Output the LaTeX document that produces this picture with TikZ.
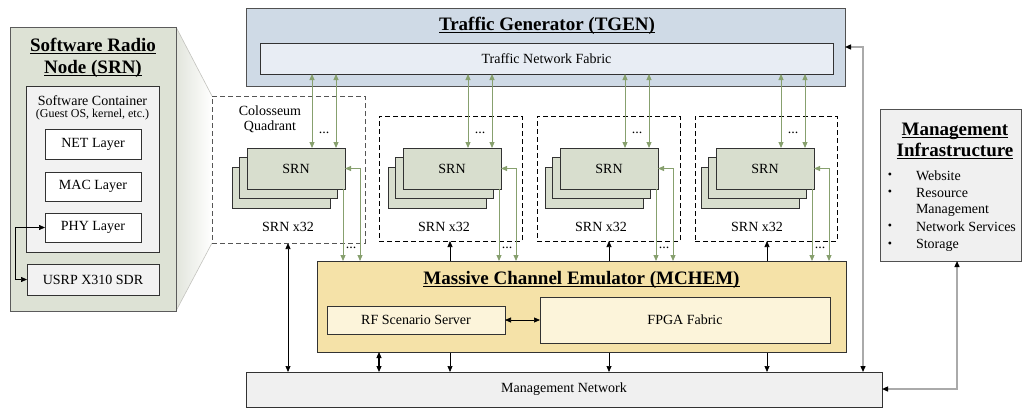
\documentclass[tikz,border=0pt]{standalone}
\usepackage{fontspec}
\setmainfont{Liberation Serif}
\usetikzlibrary{arrows.meta,calc,backgrounds}
\newcommand\bodyf{\fontsize{14}{16.5}\selectfont}
\newcommand\smallf{\fontsize{12}{14}\selectfont}
\newcommand\titlef{\fontsize{19}{22}\selectfont\bfseries}
\newcommand\myul[1]{\setbox0\hbox{#1}\rlap{\rule[-3pt]{\wd0}{1.4pt}}\box0}
\definecolor{panelc}{RGB}{221,226,213}
\definecolor{contc}{RGB}{242,242,242}
\definecolor{srnc}{RGB}{216,222,206}
\definecolor{tgenc}{RGB}{207,218,230}
\definecolor{fabc}{RGB}{232,237,244}
\definecolor{mchc}{RGB}{245,226,168}
\definecolor{rfc}{RGB}{252,244,218}
\definecolor{mgc}{RGB}{240,240,240}
\definecolor{bordc}{RGB}{50,50,50}
\definecolor{q1c}{RGB}{85,85,85}
\definecolor{greenc}{RGB}{135,160,110}
\definecolor{grayc}{RGB}{170,170,170}
\definecolor{wedgec}{RGB}{226,229,220}
\definecolor{wedgel}{RGB}{195,195,190}
\begin{document}
\begin{tikzpicture}[x=1pt,y=-1pt,
  >={Triangle[length=6pt,width=5pt]},
  every node/.style={font=\bodyf,inner sep=0pt,outer sep=0pt},
  box/.style={draw=bordc,line width=0.9pt},
  srnbox/.style={box,fill=srnc,minimum width=98,minimum height=41},
  quad/.style={draw=black,dash pattern=on 5pt off 3pt,line width=1pt},
  garrow/.style={draw=greenc,line width=0.9pt},
  barrow/.style={draw=black,line width=0.7pt},
  grarrow/.style={draw=grayc,line width=1.3pt,>={Triangle[length=6pt,width=5pt,color=black]}},
  titlenode/.style={font=\titlef,anchor=base}
]
\useasboundingbox (0,0) rectangle (1022,410);

% ---------- Software Radio Node panel ----------
\node[box,draw=bordc!80,fill=panelc,minimum width=166,minimum height=284] (panel) at (93,169) {};
\node[titlenode] (srnt1) at (93,51) {\myul{Software Radio}};
\node[titlenode] (srnt2) at (93,73) {\myul{Node (SRN)}};
\node[box,fill=contc,minimum width=133,minimum height=166] (cont) at (92.5,169) {};
\node (contt) at (92.5,101) {Software Container};
\node[font=\smallf] (conts) at (92.5,115) {(Guest OS, kernel, etc.)};
\node[box,fill=white,minimum width=96,minimum height=30] (net) at (93,144) {NET Layer};
\node[box,fill=white,minimum width=96,minimum height=29] (mac) at (93,186.5) {MAC Layer};
\node[box,fill=white,minimum width=96,minimum height=29] (phy) at (93,227.5) {PHY Layer};
\node[box,fill=contc,minimum width=132,minimum height=31] (usrp) at (93,279.5) {USRP X310 SDR};
\draw[barrow,<->] (phy.west) -- ++(-30,0) |- (usrp.west);

% ---------- Traffic Generator ----------
\node[box,draw=bordc!85,fill=tgenc,minimum width=599,minimum height=78] (tg) at (545.5,47) {};
\node[titlenode] (tgt) at (547,30) {\myul{Traffic Generator (TGEN)}};
\node[box,fill=fabc,minimum width=573,minimum height=31] (fab) at (546.5,58.5) {Traffic Network Fabric};

% ---------- Quadrants ----------
\node[quad,draw=q1c,minimum width=153,minimum height=147] (Q1) at (288.5,169.5) {};
\node[quad,minimum width=143,minimum height=125] (Q2) at (450.5,178.5) {};
\node[quad,minimum width=143,minimum height=125] (Q3) at (608.5,178.5) {};
\node[quad,minimum width=142,minimum height=125] (Q4) at (766,178.5) {};
\node (colt1) at (270,111) {Colosseum};
\node (colt2) at (270,127) {Quadrant};

% ---------- MCHEM ----------
\node[box,fill=mchc,minimum width=529,minimum height=91] (mch) at (581.5,306.5) {};
\node[titlenode] (mcht) at (581.5,284) {\myul{Massive Channel Emulator (MCHEM)}};
\node[box,fill=rfc,minimum width=178,minimum height=28] (rf) at (416,320) {RF Scenario Server};
\node[box,fill=rfc,minimum width=290,minimum height=46] (fp) at (685,320) {FPGA Fabric};
\draw[barrow,<->] (rf.east) -- (fp.west);

% ---------- Management Network ----------
\node[box,fill=mgc,minimum width=636,minimum height=35] (mg) at (564,389.5) {Management Network};

% ---------- Management Infrastructure ----------
\node[box,draw=bordc!85,fill=mgc,minimum width=141,minimum height=152] (inf) at (950.5,185) {};
\node[titlenode] (inft1) at (955,135) {\myul{Management}};
\node[titlenode] (inft2) at (955,156) {\myul{Infrastructure}};
\foreach \yy/\txt in {176/Website,193/Resource,210/Management,227/Network Services,245/Storage}
  \node[anchor=west] at (916,\yy) {\txt};
\foreach \yy in {176,193,227,245}
  \node[font=\smallf] at (890,\yy) {•};

% ---------- SRN stacks and connectors ----------
\foreach \q/\cx/\bx in {1/296/288,2/452/450,3/609/609,4/765/767}{
  \node[srnbox] (B\q) at (\cx-15,187.5) {};
  \node[srnbox] (M\q) at (\cx-7.5,178) {};
  \node[srnbox] (F\q) at (\cx,168.5) {SRN};
  \node (L\q) at (\cx-8,227) {SRN x32};
  \path (F\q.north west) ++(65,0) coordinate (ta\q) ++(24,0) coordinate (tb\q);
  \draw[garrow,<->] (ta\q |- fab.south) -- (ta\q);
  \draw[garrow,<->] (tb\q |- fab.south) -- (tb\q);
  \node (dt\q) at ($(F\q.north west)+(77,-15)$) {...};
  \path (F\q.south east) ++(-2,0) coordinate (da\q);
  \draw[garrow,->] (da\q) -- (da\q |- mch.north);
  \path (F\q.east) ++(15,0) coordinate (db\q);
  \draw[garrow,<->] (F\q.east) -- (db\q) -- (db\q |- mch.north);
  \node (db\q t) at ($(F\q.south east)+(6,59)$) {...};
  \begin{pgfonlayer}{background}
    \coordinate (bl\q) at (\bx,0);
    \draw[barrow,<->] (bl\q |- Q\q.south) -- (bl\q |- mg.north);
  \end{pgfonlayer}
}

% MCHEM <-> management network
\coordinate (mx) at (379,0);
\draw[barrow,line width=1.1pt,<->] (mx |- mch.south) -- (mx |- mg.north);

% gray links
\coordinate (gx) at (863,47);
\draw[grarrow,<->] (tg.east |- gx) -- (gx) -- (gx |- mg.north);
\coordinate (ix) at (957,389);
\draw[grarrow,<->] (inf.south -| ix) -- (ix) -- (mg.east |- ix);

% perspective wedge
\begin{pgfonlayer}{background}
  \shade[left color=wedgec,right color=white] (panel.north east) -- (Q1.north west) -- (Q1.south west) -- (panel.south east) -- cycle;
  \draw[draw=wedgel,line width=0.6pt] (panel.north east) -- (Q1.north west) (panel.south east) -- (Q1.south west);
\end{pgfonlayer}
\end{tikzpicture}
\end{document}
